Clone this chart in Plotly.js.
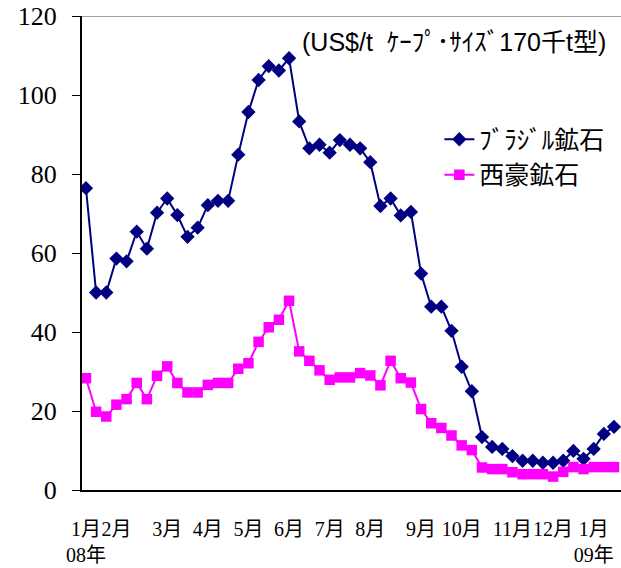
<!DOCTYPE html>
<html>
<head>
<meta charset="utf-8">
<script src="https://cdn.plot.ly/plotly-3.0.1.min.js"></script>
<style>html,body{margin:0;padding:0;background:#fff;}</style>
</head>
<body>
<div id="chart" style="width:621px;height:568px;"></div>
<script>
// Weekly observations, Jan 2008 - Jan 2009 (index = week number)
var brazil = [76.4, 50.0, 50.0, 58.6, 57.9, 65.4, 61.1, 70.2, 73.8, 69.6,
              64.1, 66.4, 72.1, 73.2, 73.2, 84.9, 95.7, 103.8, 107.3, 106.2,
              109.3, 93.3, 86.5, 87.4, 85.4, 88.6, 87.4, 86.5, 83.0, 71.9,
              73.8, 69.5, 70.4, 54.8, 46.4, 46.4, 40.3, 31.2, 25.0, 13.4,
              10.9, 10.4, 8.6, 7.4, 7.4, 6.9, 6.9, 7.4, 9.9, 7.9,
              10.4, 14.2, 16.0];
var australia = [28.3, 19.8, 18.6, 21.6, 23.0, 27.1, 23.0, 28.9, 31.3, 27.1,
                 24.7, 24.7, 26.6, 27.1, 27.1, 30.7, 32.1, 37.5, 41.2, 43.1,
                 47.9, 35.1, 32.7, 30.3, 27.9, 28.5, 28.5, 29.6, 29.0, 26.5,
                 32.7, 28.3, 27.2, 20.5, 16.9, 15.7, 13.8, 11.3, 10.1, 5.7,
                 5.3, 5.3, 4.5, 4.0, 4.0, 4.0, 3.4, 4.6, 5.8, 5.3,
                 5.8, 5.8, 5.8];
var weeks = brazil.map(function(_, i){ return i; });
var monthTickWeeks = [0, 3, 8, 12, 16, 20, 24, 28, 33, 37, 42, 46, 50];
var monthTickLabels = ["1月<br>08年", "2月", "3月", "4月", "5月", "6月", "7月", "8月",
                       "9月", "10月", "11月", "12月", "1月<br>09年"];
var yTicks = [0, 20, 40, 60, 80, 100, 120];
var seriesNames = ["ﾌﾞﾗｼﾞﾙ鉱石", "西豪鉱石"];
var unitNote = "(US$/t  ｹｰﾌﾟ･ｻｲｽﾞ170千t型)";

var serif = "'Liberation Serif', 'Times New Roman', 'DejaVu Serif', 'Noto Sans CJK JP', serif";
var cjk = "'Liberation Sans', Arial, 'Noto Sans CJK JP', sans-serif";

var traces = [
  {
    x: weeks, y: brazil, name: seriesNames[0], type: "scatter", mode: "lines+markers",
    line: {color: "#000080", width: 2},
    marker: {symbol: "diamond", size: 11, color: "#000080"}
  },
  {
    x: weeks, y: australia, name: seriesNames[1], type: "scatter", mode: "lines+markers",
    line: {color: "#FF00FF", width: 2},
    marker: {symbol: "square", size: 10.5, color: "#FF00FF"}
  }
];

var layout = {
  width: 621, height: 568,
  margin: {l: 82, r: 0, t: 16, b: 78},
  paper_bgcolor: "#ffffff", plot_bgcolor: "#ffffff",
  showlegend: true,
  legend: {
    x: 0.663, y: 0.788, xanchor: "left", yanchor: "top",
    bgcolor: "rgba(0,0,0,0)", borderwidth: 0,
    font: {family: cjk, size: 25, color: "#000000"},
    tracegroupgap: 0
  },
  xaxis: {
    range: [-0.39, 52.69],
    tickmode: "array", tickvals: monthTickWeeks, ticktext: monthTickLabels,
    tickangle: 0,
    ticks: "", showgrid: false, zeroline: false,
    showline: true, linecolor: "#000000", linewidth: 2,
    tickfont: {family: serif, size: 20, color: "#000000"},
    ticklabelstandoff: 20
  },
  yaxis: {
    range: [0, 120],
    tickmode: "array", tickvals: yTicks,
    ticks: "outside", ticklen: 8, tickcolor: "#000000", tickwidth: 1,
    showgrid: false, zeroline: false,
    showline: true, linecolor: "#000000", linewidth: 2,
    tickfont: {family: serif, size: 26, color: "#000000"},
    ticklabelstandoff: 10
  },
  shapes: [
    {type: "line", xref: "paper", yref: "y", x0: 0, x1: 1, y0: 120, y1: 120,
     line: {color: "#808080", width: 1.5}}
  ],
  annotations: [
    {text: unitNote, xref: "paper", yref: "paper", x: 0.69, y: 0.945,
     xanchor: "center", yanchor: "middle", showarrow: false,
     font: {family: cjk, size: 25, color: "#000000"}}
  ]
};

Plotly.newPlot("chart", traces, layout, {displayModeBar: false, staticPlot: true});
</script>
</body>
</html>
